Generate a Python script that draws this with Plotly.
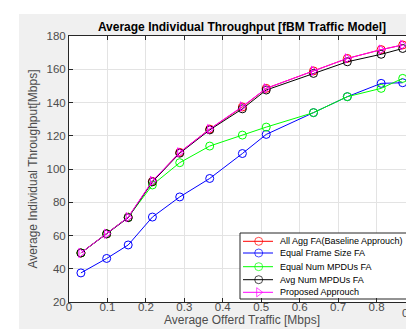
import plotly.graph_objects as go

x_traffic = [0.031, 0.098, 0.154, 0.217, 0.288, 0.366, 0.451, 0.513, 0.636, 0.724, 0.812, 0.868]

all_agg = [49.5, 61, 71, 92.5, 110, 124, 137.3, 148.5, 159, 166.5, 171.8, 174.6]
equal_frame = [37.5, 46.2, 54.3, 71.1, 83.2, 94.3, 109.3, 120.8, 133.9, 143.5, 151.5, 151.9]
equal_mpdus = [49.5, 61, 71, 90.4, 103.8, 113.8, 120.4, 125.2, 133.9, 143.5, 148.5, 154.5]
avg_mpdus = [49.5, 61, 70.7, 92.3, 109.5, 123.5, 136.2, 147.5, 157.5, 164.5, 169, 172.5]
proposed = [49.5, 61, 71, 92.8, 110, 124, 137.6, 148.5, 159, 166.5, 171.8, 174.6]

x_ticks = [0, 0.1, 0.2, 0.3, 0.4, 0.5, 0.6, 0.7, 0.8, 0.9]
y_ticks = [20, 40, 60, 80, 100, 120, 140, 160, 180]

series_names = ["All Agg FA(Baseline Approuch)", "Equal Frame Size FA",
                "Equal Num MPDUs FA", "Avg Num MPDUs FA", "Proposed Approuch"]
series_values = [all_agg, equal_frame, equal_mpdus, avg_mpdus, proposed]
series_colors = ["#ff0000", "#0000ff", "#00ff00", "#000000", "#ff00ff"]
series_symbols = ["circle-open", "circle-open", "circle-open", "circle-open", "triangle-right-open"]

FONT = "Liberation Sans, Arial, sans-serif"
X_RANGE = [0, 0.9]
Y_RANGE = [20, 180]

fig = go.Figure()
for name, ys, col, sym in zip(series_names, series_values, series_colors, series_symbols):
    fig.add_trace(go.Scatter(
        x=x_traffic, y=ys, name=name, mode="lines+markers",
        line=dict(color=col, width=1),
        marker=dict(symbol=sym, size=8, color=col, line=dict(color=col, width=1)),
        showlegend=False,
    ))

# --- legend (MATLAB-style, compact) drawn on an overlay axis in plot-pixel units
PW, PH = 346, 266  # plot area size in px
leg_left, leg_right, leg_top, leg_bottom = 171, 343, 69, 3
row_y = [60.7, 49, 35.3, 22.3, 9.7]
line_x0, line_x1, mark_x, text_x = 174, 204, 189.7, 209


def px_to_x(p):
    return X_RANGE[0] + p / PW * (X_RANGE[1] - X_RANGE[0])


def px_to_y(p):
    return Y_RANGE[0] + p / PH * (Y_RANGE[1] - Y_RANGE[0])


fig.add_shape(type="rect", xref="x", yref="y",
              x0=px_to_x(leg_left), x1=px_to_x(leg_right),
              y0=px_to_y(leg_bottom), y1=px_to_y(leg_top),
              fillcolor="#ffffff", line=dict(color="#262626", width=1), layer="between")

for name, col, sym, ry in zip(series_names, series_colors, series_symbols, row_y):
    fig.add_trace(go.Scatter(
        x=[line_x0, mark_x, line_x1], y=[ry, ry, ry], xaxis="x2", yaxis="y2",
        mode="lines+markers", line=dict(color=col, width=1),
        marker=dict(symbol=sym, size=[0, 8, 0], color=col, line=dict(color=col, width=1)),
        showlegend=False, hoverinfo="skip",
    ))
    fig.add_annotation(x=text_x, y=ry, xref="x2", yref="y2", text=name,
                       showarrow=False, xanchor="left", yanchor="middle",
                       font=dict(family=FONT, size=9, color="#000000"))

# last x tick label sits at the window edge, draw it as text kept inside the window
fig.add_annotation(x=1, y=-11 / PH, xref="paper", yref="paper", text=f"{x_ticks[-1]:g}",
                   showarrow=False, xanchor="right", yanchor="middle", xshift=5,
                   font=dict(family=FONT, size=11.5, color="#4d4d4d"))

# white window strips (left and top edges of the screenshot)
fig.add_shape(type="rect", xref="paper", yref="paper",
              x0=-61 / PW, x1=-50 / PW, y0=-40 / PH, y1=1 + 30 / PH,
              fillcolor="#ffffff", line=dict(width=0), layer="below")
fig.add_shape(type="rect", xref="paper", yref="paper",
              x0=-61 / PW, x1=1 + 7 / PW, y0=1 + 22 / PH, y1=1 + 30 / PH,
              fillcolor="#ffffff", line=dict(width=0), layer="below")

axis_common = dict(
    showline=True, linecolor="#262626", linewidth=1, mirror="ticks",
    ticks="inside", ticklen=4, tickcolor="#262626",
    showgrid=True, gridcolor="#e3e3e3", gridwidth=1, zeroline=False,
    tickfont=dict(family=FONT, size=11.5, color="#4d4d4d"),
)

fig.update_layout(
    width=414, height=329,
    margin=dict(l=61, r=7, t=28, b=35),
    paper_bgcolor="#f0f0f0", plot_bgcolor="#ffffff",
    font=dict(family=FONT, color="#262626"),
    title=dict(text="<b>Average Individual Throughput [fBM Traffic Model]</b>",
               x=0.5, xanchor="center", xref="paper",
               y=1 - 19 / 329, yanchor="middle",
               font=dict(family=FONT, size=12, color="#000000")),
    xaxis=dict(range=X_RANGE, tickvals=x_ticks,
               ticktext=[f"{v:g}" for v in x_ticks[:-1]] + [""],
               ticklabelstandoff=-6,
               title=dict(text="Average Offerd Traffic [Mbps]", standoff=0,
                          font=dict(family=FONT, size=12, color="#4d4d4d")),
               **axis_common),
    yaxis=dict(range=Y_RANGE, tickvals=y_ticks,
               title=dict(text="Average Individual Throughput[Mbps]", standoff=6,
                          font=dict(family=FONT, size=12, color="#4d4d4d")),
               **axis_common),
    xaxis2=dict(overlaying="x", anchor="y2", range=[0, PW], visible=False, fixedrange=True),
    yaxis2=dict(overlaying="y", anchor="x2", range=[0, PH], visible=False, fixedrange=True),
    showlegend=False,
)

fig.write_html("out.html")
